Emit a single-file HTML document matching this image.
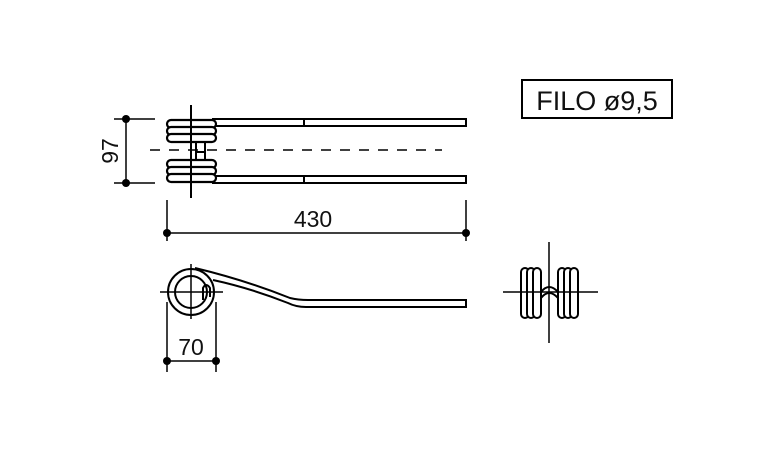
<!DOCTYPE html>
<html><head><style>body{margin:0;background:#fff}svg{display:block}</style></head><body>
<svg width="758" height="465" viewBox="0 0 758 465" xmlns="http://www.w3.org/2000/svg" font-family="Liberation Sans, sans-serif">
<rect width="758" height="465" fill="#fff"/>
<g stroke="#000" fill="none" stroke-width="2">
<rect x="213" y="119" width="253" height="7" fill="#fff"/>
<rect x="213" y="176" width="253" height="7" fill="#fff"/>
<line x1="304" y1="119" x2="304" y2="126"/>
<line x1="304" y1="176" x2="304" y2="183"/>
<g fill="#fff" stroke-width="2.2">
<rect x="167" y="120" width="49" height="8" rx="4"/>
<rect x="167" y="127" width="49" height="8" rx="4"/>
<rect x="167" y="134" width="49" height="8" rx="4"/>
<rect x="167" y="160" width="49" height="8" rx="4"/>
<rect x="167" y="167" width="49" height="8" rx="4"/>
<rect x="167" y="174" width="49" height="8" rx="4"/>
</g>
<line x1="196" y1="142" x2="196" y2="160"/>
<line x1="205" y1="142" x2="205" y2="160"/>
<line x1="196" y1="152" x2="205" y2="152"/>
<line x1="191" y1="105" x2="191" y2="198"/>
<line x1="150" y1="150" x2="442" y2="150" stroke-width="1.5" stroke-dasharray="10,9"/>
<line x1="114" y1="119" x2="155" y2="119" stroke-width="1.5"/>
<line x1="114" y1="183" x2="155" y2="183" stroke-width="1.5"/>
<line x1="126" y1="119" x2="126" y2="183" stroke-width="1.5"/>
<line x1="167" y1="200" x2="167" y2="241" stroke-width="1.5"/>
<line x1="466" y1="200" x2="466" y2="241" stroke-width="1.5"/>
<line x1="167" y1="233" x2="466" y2="233" stroke-width="1.5"/>
<!-- side view -->
<path d="M195 268 Q245 280 290 298 Q298 300 308 300 L466 300 L466 307 L306 307 Q296 307 288 303 Q250 288 213 280" fill="#fff"/>
<circle cx="191" cy="292" r="23"/>
<circle cx="191" cy="292" r="16"/>
<path d="M203 300 L203 288 Q206 282 210 288 L210 297"/>
<line x1="160" y1="292" x2="223" y2="292" stroke-width="1.5"/>
<line x1="191" y1="264" x2="191" y2="319" stroke-width="1.5"/>
<line x1="167" y1="302" x2="167" y2="372" stroke-width="1.5"/>
<line x1="216" y1="302" x2="216" y2="372" stroke-width="1.5"/>
<line x1="167" y1="361" x2="216" y2="361" stroke-width="1.5"/>
<!-- front view -->
<g fill="#fff">
<rect x="521" y="268" width="8" height="50" rx="4"/>
<rect x="527" y="268" width="8" height="50" rx="4"/>
<rect x="533" y="268" width="8" height="50" rx="4"/>
<rect x="558" y="268" width="8" height="50" rx="4"/>
<rect x="564" y="268" width="8" height="50" rx="4"/>
<rect x="570" y="268" width="8" height="50" rx="4"/>
</g>
<path d="M541 292 Q549 282 558 292"/>
<path d="M541 298 Q549 288 558 298"/>
<line x1="549" y1="242" x2="549" y2="343" stroke-width="1.5"/>
<line x1="503" y1="292" x2="598" y2="292" stroke-width="1.5"/>
<rect x="522" y="80" width="150" height="38"/>
</g>
<g fill="#000">
<circle cx="126" cy="119" r="4"/><circle cx="126" cy="183" r="4"/>
<circle cx="167" cy="233" r="4"/><circle cx="466" cy="233" r="4"/>
<circle cx="167" cy="361" r="4"/><circle cx="216" cy="361" r="4"/>
</g>
<g font-size="23" fill="#111">
<text x="313" y="227" text-anchor="middle">430</text>
<text x="191" y="355" text-anchor="middle">70</text>
<text transform="translate(118,151) rotate(-90)" text-anchor="middle">97</text>
<text x="597" y="110" text-anchor="middle" font-size="27">FILO ø9,5</text>
</g>
</svg>
</body></html>
